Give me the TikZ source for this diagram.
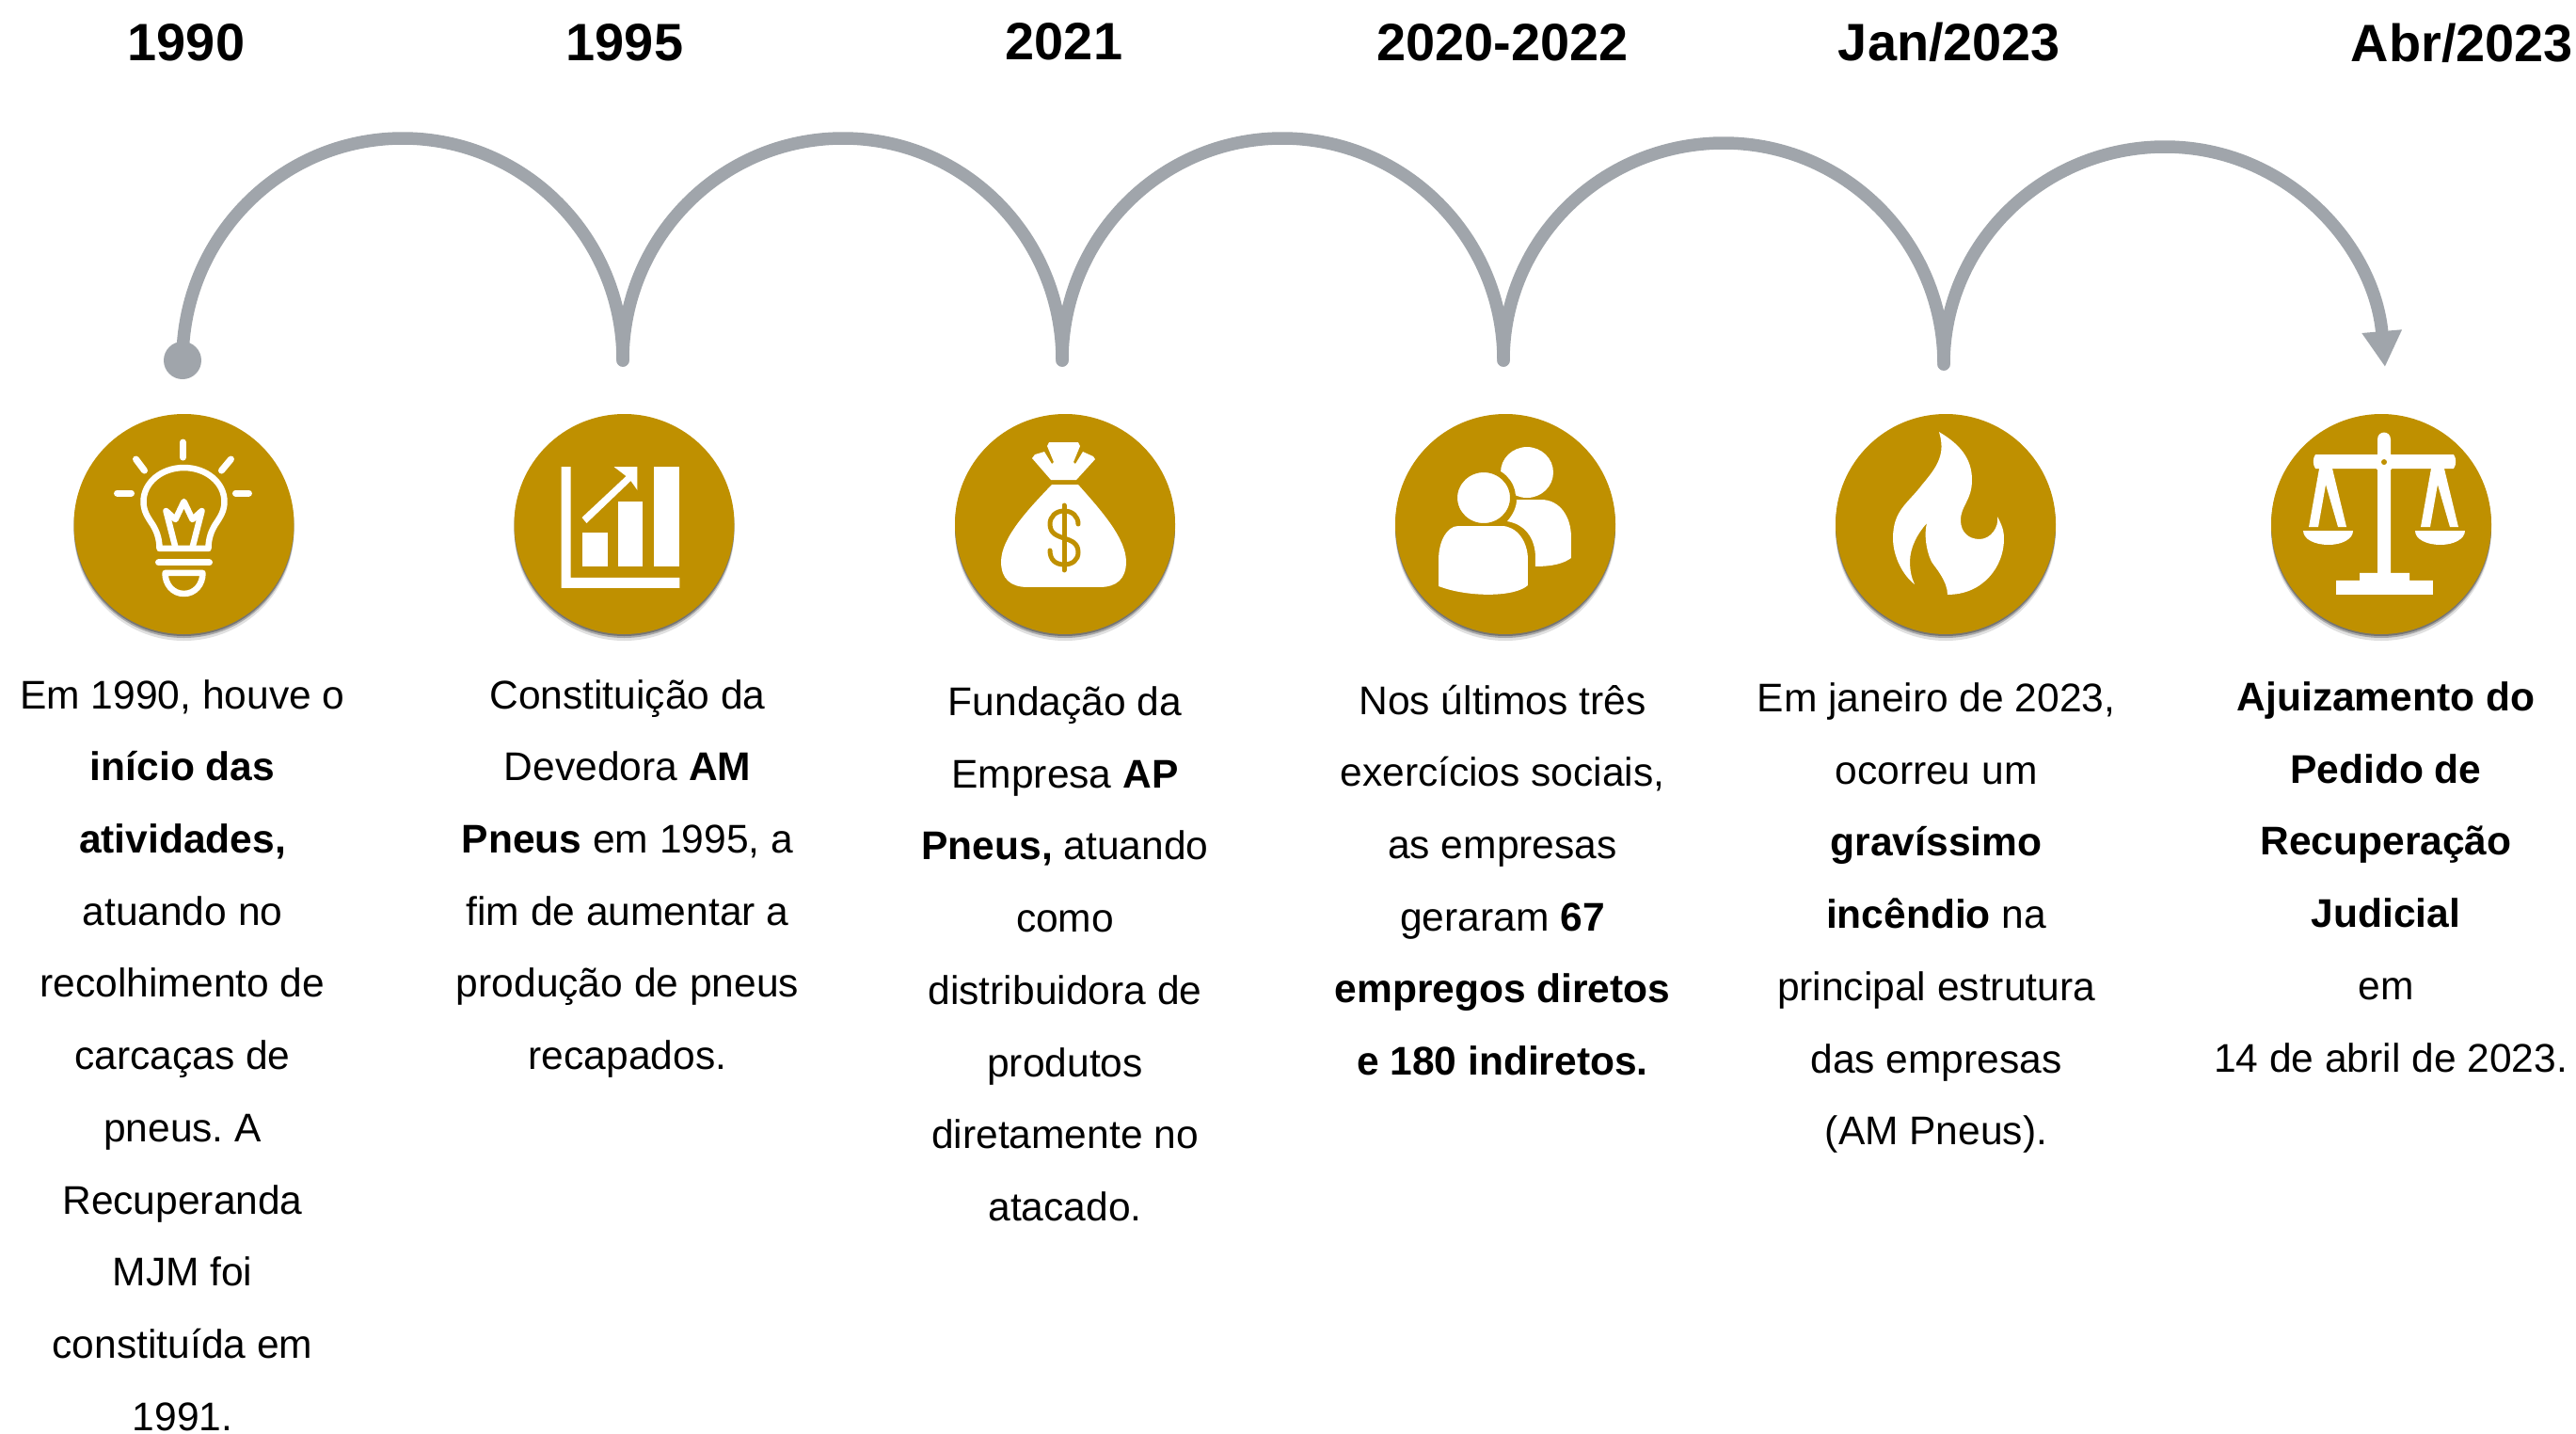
\documentclass[tikz,border=0pt]{standalone}
\usepackage{fontspec}
\setmainfont{Liberation Sans}
\frenchspacing
\usetikzlibrary{arrows.meta,shadows}
\definecolor{gold}{HTML}{BF9000}
\definecolor{arcgray}{HTML}{A0A5AB}
\tikzset{
	year/.style={font=\fontsize{15.9}{18}\selectfont\bfseries,inner sep=0},
	desc/.style={align=center,anchor=north,inner sep=0,font=\fontsize{12.1}{21.83}\selectfont},
	disc/.style={circle,fill=gold,minimum size=2.34cm,inner sep=0,
		drop shadow={shadow xshift=0,shadow yshift=-.07cm,opacity=.12,fill=black},
		drop shadow={shadow xshift=0,shadow yshift=-.04cm,opacity=.25,fill=black},
		drop shadow={shadow xshift=0,shadow yshift=-.02cm,opacity=.3,fill=black}},
	arcline/.style={draw=arcgray,line width=.135cm,line cap=round},
	iconline/.style={draw=white,line width=.07cm,line cap=round,line join=round},
	iconfill/.style={fill=white,draw=none},
	local/.style={shift={(#1)},x=.01cm,y=-.01cm}
}
\begin{document}
\begin{tikzpicture}
	\useasboundingbox (0,0) rectangle (27.38,-15.24);

	\node[year] (Y1) at (1.98,-.45) {1990};
	\node[year] (Y2) at (6.64,-.45) {1995};
	\node[year] (Y3) at (11.31,-.44) {2021};
	\node[year] (Y4) at (15.97,-.45) {2020-2022};
	\node[year] (Y5) at (20.72,-.45) {Jan/2023};
	\node[year] (Y6) at (26.17,-.46) {Abr/2023};

	\node[circle,fill=arcgray,minimum size=.4cm,inner sep=0] (P1) at (1.94,-3.83) {};
	\coordinate (P2) at (6.62,-3.83);
	\coordinate (P3) at (11.29,-3.83);
	\coordinate (P4) at (15.98,-3.83);
	\coordinate (P5) at (20.66,-3.87);
	\coordinate (P6) at (25.35,-3.90);
	\coordinate (A1) at (4.28,-1.47);
	\coordinate (A2) at (8.96,-1.47);
	\coordinate (A3) at (13.63,-1.47);
	\coordinate (A4) at (18.32,-1.52);
	\coordinate (A5) at (23.01,-1.56);

	\draw [arcline] (P1.center) to[out=90,in=180] (A1) to[out=0,in=90] (P2);
	\draw [arcline] (P2) to[out=90,in=180] (A2) to[out=0,in=90] (P3);
	\draw [arcline] (P3) to[out=90,in=180] (A3) to[out=0,in=90] (P4);
	\draw [arcline] (P4) to[out=90,in=180] (A4) to[out=0,in=90] (P5);
	\draw [arcline,-{Triangle[width=.4cm,length=.38cm]}] (P5) to[out=90,in=180] (A5) to[out=0,in=95] (P6);

	\node[disc] (C1) at (1.955,-5.57) {};
	\node[disc] (C2) at (6.635,-5.57) {};
	\node[disc] (C3) at (11.32,-5.57) {};
	\node[disc] (C4) at (16.00,-5.57) {};
	\node[disc] (C5) at (20.68,-5.57) {};
	\node[disc] (C6) at (25.31,-5.57) {};

	% lamp
	\begin{scope}[local=C1]
		\draw [iconline] (-1,-87) -- (-1,-71);
		\draw [iconline] (-51,-69) -- (-42,-57);
		\draw [iconline] (50,-69) -- (40,-57);
		\draw [iconline] (-71,-33) -- (-56,-33);
		\draw [iconline] (55,-33) -- (69,-33);
		\draw [iconline,line width=.065cm] (-26,26) .. controls (-26,14) and (-30,6) .. (-33,1) .. controls (-39,-8) and (-43,-14) .. (-43,-24) .. controls (-43,-44) and (-24,-60) .. (0,-60) .. controls (24,-60) and (43,-44) .. (43,-24) .. controls (43,-14) and (39,-8) .. (33,1) .. controls (30,6) and (26,14) .. (26,26) -- cycle;
		\draw [iconline,line width=.065cm] (-9,25) -- (-19,-14) -- (-9,-5) -- (0,-24) -- (9,-5) -- (19,-14) -- (9,25);
		\draw [iconline] (-27,41) -- (27,41);
		\draw [iconline,line width=.065cm] (-20,52) -- (20,52) .. controls (20,64) and (12,74) .. (0,74) .. controls (-12,74) and (-20,64) .. (-20,52) -- cycle;
	\end{scope}

	% chart
	\begin{scope}[local=C2]
		\fill [iconfill] (-67,-61) -- (-57,-61) -- (-57,57) -- (59,57) -- (59,68) -- (-67,68) -- cycle;
		\fill [iconfill] (-45,9) rectangle (-18,45);
		\fill [iconfill] (-7,-24) rectangle (20,45);
		\fill [iconfill] (32,-61) rectangle (59,45);
		\fill [iconfill] (-11,-61) -- (14,-61) -- (14,-36) -- (7,-46) -- (-40,-1) -- (-45,-7) -- (2,-51) -- cycle;
	\end{scope}

	% bag
	\begin{scope}[local=C3]
		\fill [iconfill] (-17,-87) -- (14,-87) -- (16,-83) -- (9,-66) -- (11,-64) -- (19,-77) -- (30,-72) -- (32,-69) -- (12,-47) -- (-15,-47) -- (-35,-70) -- (-32,-74) -- (-22,-77) -- (-14,-64) -- (-12,-66) -- (-19,-83) -- cycle;
		\fill [iconfill] (-14,-42) .. controls (-40,-15) and (-68,15) .. (-68,40) .. controls (-68,58) and (-58,67) .. (-40,67) -- (37,67) .. controls (55,67) and (65,58) .. (65,40) .. controls (65,15) and (38,-15) .. (14,-42) -- cycle;
		\draw [gold,line width=.05cm,line cap=round] (14,0) .. controls (14,-8) and (8,-14) .. (-1,-14) .. controls (-10,-14) and (-16,-8) .. (-16,0) .. controls (-16,20) and (14,10) .. (14,30) .. controls (14,38) and (8,43) .. (-1,43) .. controls (-10,43) and (-16,38) .. (-16,28);
		\draw [gold,line width=.05cm,line cap=round] (-1,-20) -- (-1,49);
	\end{scope}

	% people
	\begin{scope}[local=C4]
		\fill [iconfill] (23,-55) ellipse (28 and 27);
		\fill [iconfill] (12,-26) -- (38,-26) .. controls (58,-26) and (70,-8) .. (70,14) -- (70,36) .. controls (62,42) and (50,45) .. (32,45) -- (32,36) .. controls (32,14) and (20,0) .. (2,-3) .. controls (8,-10) and (12,-18) .. (12,-26) -- cycle;
		\filldraw [draw=gold,fill=white,line width=.06cm] (-23,-28) ellipse (31 and 30);
		\fill [iconfill] (-50,2) -- (-4,2) .. controls (12,2) and (24,18) .. (24,38) -- (24,65) .. controls (10,78) and (-40,78) .. (-71,66) -- (-71,38) .. controls (-71,18) and (-62,2) .. (-50,2) -- cycle;
	\end{scope}

	% flame
	\begin{scope}[local=C5]
		\fill [iconfill] (-7,-98) .. controls (15,-85) and (28,-70) .. (28,-47) .. controls (28,-25) and (16,-20) .. (16,-4) .. controls (16,8) and (24,16) .. (36,16) .. controls (48,16) and (57,3) .. (55,-8) .. controls (62,5) and (62,10) .. (62,16) .. controls (62,45) and (40,75) .. (2,75) .. controls (2,60) and (-12,45) .. (-15,40) .. controls (-21,28) and (-23,10) .. (-20,-1) .. controls (-30,10) and (-38,25) .. (-38,40) .. controls (-38,50) and (-36,58) .. (-33,64) .. controls (-45,55) and (-56,35) .. (-56,15) .. controls (-56,-15) and (-40,-22) .. (-25,-42) .. controls (-8,-62) and (0,-75) .. (-7,-98) -- cycle;
	\end{scope}

	% scales
	\begin{scope}[local=C6]
		\fill [iconfill] (-4,-90) .. controls (-4,-100) and (10,-100) .. (10,-90) -- (10,53) -- (-4,53) -- cycle;
		\fill [iconfill] (-70,-74) -- (77,-74) .. controls (80,-70) and (80,-63) .. (77,-59) -- (-70,-59) .. controls (-73,-63) and (-73,-70) .. (-70,-74) -- cycle;
		\fill [iconfill] (3,-66) circle (11);
		\fill [gold] (3,-66) circle (3);
		\fill [iconfill] (-66,-59) -- (-52,-59) -- (-37,3) -- (-46,3) -- (-59,-42) -- (-67,3) -- (-77,3) -- cycle;
		\fill [iconfill] (53,-59) -- (67,-59) -- (82,3) -- (73,3) -- (60,-42) -- (52,3) -- (42,3) -- cycle;
		\fill [iconfill] (-83,7) -- (-30,7) .. controls (-30,16) and (-42,22) .. (-56,22) .. controls (-71,22) and (-83,16) .. (-83,7) -- cycle;
		\fill [iconfill] (36,7) -- (89,7) .. controls (89,16) and (77,22) .. (63,22) .. controls (48,22) and (36,16) .. (36,7) -- cycle;
		\fill [iconfill] (-48,60) -- (-23,60) -- (-23,52) -- (30,52) -- (30,60) -- (55,60) -- (55,75) -- (-48,75) -- cycle;
	\end{scope}

	\node[desc] (D1) at (1.94,-7.215) {Em 1990, houve o\\\textbf{início das}\\\textbf{atividades,}\\atuando no\\recolhimento de\\carcaças de\\pneus. A\\Recuperanda\\MJM foi\\constituída em\\1991.};
	\node[desc] (D2) at (6.67,-7.215) {Constituição da\\Devedora \textbf{AM}\\\textbf{Pneus} em 1995, a\\fim de aumentar a\\produção de pneus\\recapados.};
	\node[desc] (D3) at (11.32,-7.29) {Fundação da\\Empresa \textbf{AP}\\\textbf{Pneus,} atuando\\como\\distribuidora de\\produtos\\diretamente no\\atacado.};
	\node[desc] (D4) at (15.97,-7.27) {Nos últimos três\\exercícios sociais,\\as empresas\\geraram \textbf{67}\\\textbf{empregos diretos}\\\textbf{e 180 indiretos.}};
	\node[desc] (D5) at (20.58,-7.25) {Em janeiro de 2023,\\ocorreu um\\\textbf{gravíssimo}\\\textbf{incêndio} na\\principal estrutura\\das empresas\\(AM Pneus).};
	\node[desc] (D6) at (25.36,-7.24) {\textbf{Ajuizamento do}\\\textbf{Pedido de}\\\textbf{Recuperação}\\\textbf{Judicial}\\em\\\hspace*{.1cm}14 de abril de 2023.};
\end{tikzpicture}
\end{document}
